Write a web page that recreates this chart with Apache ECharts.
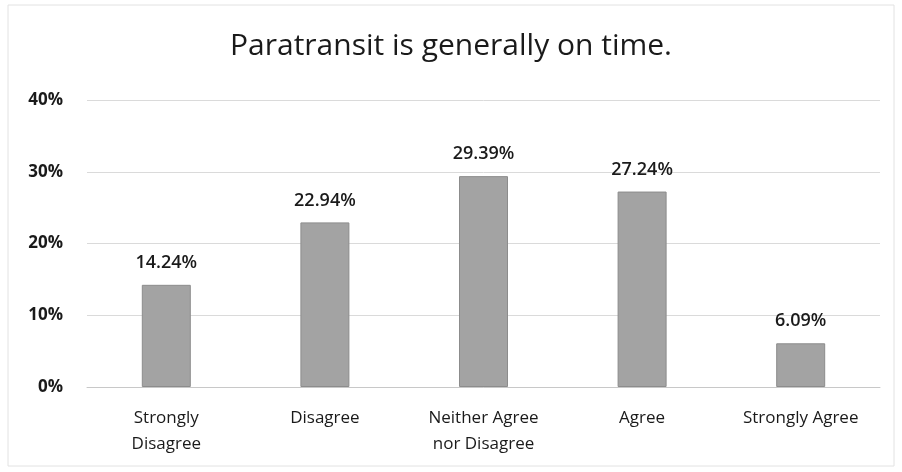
<!DOCTYPE html>
<html><head><meta charset="utf-8">
<script src="https://cdn.jsdelivr.net/npm/echarts@6/dist/echarts.min.js"></script>
<style>html,body{margin:0;padding:0;background:#fff}#c{width:902px;height:472px}</style>
</head><body><div id="c"></div>
<script>
const categories = ["Strongly\nDisagree", "Disagree", "Neither Agree\nnor Disagree", "Agree", "Strongly Agree"];
const values = [14.24, 22.94, 29.39, 27.24, 6.09];
const yTicks = [0, 10, 20, 30, 40];
const titleText = "Paratransit is generally on time.";

const chart = echarts.init(document.getElementById('c'));
chart.setOption({
  backgroundColor: '#fff',
  animation: false,
  title: {
    text: titleText, left: 'center', top: 26,
    textStyle: {fontFamily: 'Open Sans', fontSize: 30, fontWeight: 'normal', color: '#1a1a1a'}
  },
  graphic: [{type: 'rect', shape: {x: 8, y: 5, width: 886, height: 461},
    style: {fill: 'none', stroke: '#e2e2e2', lineWidth: 1}, silent: true}],
  grid: {left: 87, right: 22, top: 100, bottom: 85},
  xAxis: {
    type: 'category', data: categories,
    axisLine: {lineStyle: {color: '#c8c8c8'}}, axisTick: {show: false},
    axisLabel: {fontFamily: 'Open Sans', fontSize: 17, color: '#1a1a1a', lineHeight: 26, margin: 18}
  },
  yAxis: {
    type: 'value', min: yTicks[0], max: yTicks[yTicks.length - 1], interval: 10,
    axisLabel: {formatter: v => v + '%', fontFamily: 'Open Sans', fontWeight: 'bold', fontSize: 17, color: '#1a1a1a', margin: 24},
    axisLine: {show: false}, axisTick: {show: false},
    splitLine: {lineStyle: {color: '#dadada'}}
  },
  series: [{
    type: 'bar', data: values, barWidth: 49,
    itemStyle: {color: '#a3a3a3', borderColor: '#8c8c8c', borderWidth: 1},
    label: {show: true, position: 'top', distance: 13, formatter: p => p.value.toFixed(2) + '%',
      fontFamily: 'Open Sans', fontSize: 18, fontWeight: 600, color: '#1a1a1a'}
  }]
});
</script></body></html>
